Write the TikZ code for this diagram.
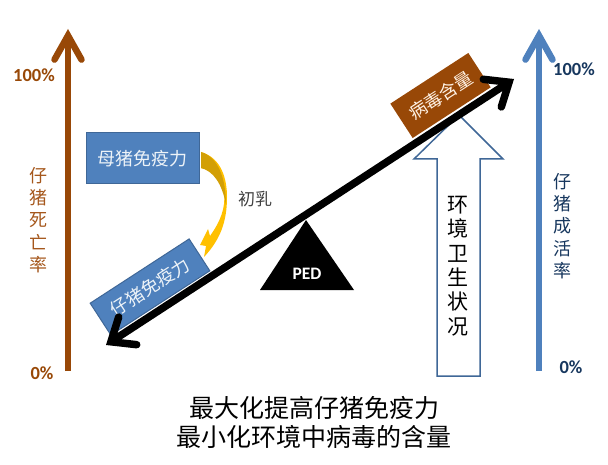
\documentclass[tikz,border=0pt]{standalone}
\usepackage{fontspec}
\setmainfont{Carlito}
\newfontfamily\cjk{Noto Sans CJK SC}
\usetikzlibrary{arrows.meta}
\definecolor{rustbrown}{HTML}{984807}
\definecolor{rusttext}{HTML}{A5571C}
\definecolor{axisblue}{HTML}{4F81BD}
\definecolor{boxedge}{HTML}{3F6797}
\definecolor{navytext}{HTML}{17375E}
\definecolor{milkgold}{HTML}{FFC000}
\definecolor{milkdark}{HTML}{D29F06}
\tikzset{
  axisline/.style={line width=6.5pt,-{Straight Barb[line cap=round,line join=miter,length=24pt,width=27pt,line width=6.5pt]}},
  beamline/.style={line width=7.5pt,{Straight Barb[line cap=round,line join=miter,length=20pt,width=33pt,line width=7.5pt]}-{Straight Barb[line cap=round,line join=miter,length=20pt,width=33pt,line width=7.5pt]}},
  immunebox/.style={draw=boxedge,line width=1pt,fill=axisblue,text=white!90!axisblue,minimum width=113pt,minimum height=51pt,font=\cjk\fontsize{18}{20}\selectfont},
  pct/.style={font=\bfseries\fontsize{18.5}{21}\selectfont},
  vtext/.style={align=center,font=\cjk\fontsize{18}{22.4}\selectfont}
}
\begin{document}
\begin{tikzpicture}[x=1pt,y=-1pt]
\useasboundingbox (0,0) rectangle (608,465);
\coordinate (leftlow) at (68,371);
\coordinate (lefttop) at (68,29);
\coordinate (rightlow) at (539,371);
\coordinate (righttop) at (539,29);
\coordinate (beamlow) at (106,345);
\coordinate (beamtop) at (514,79);

% axes
\draw[axisline,rustbrown] (leftlow) -- (lefttop);
\draw[axisline,axisblue] (rightlow) -- (righttop);
\node[pct,rustbrown] (lefthigh) at (34,75) {100\%};
\node[pct,rustbrown] (leftzero) at (42,373) {0\%};
\node[pct,navytext] (righthigh) at (574,69) {100\%};
\node[pct,navytext] (rightzero) at (571,367) {0\%};
\node[vtext,rusttext] (death) at (38,220) {仔\\猪\\死\\亡\\率};
\node[vtext,navytext] (survive) at (562,226) {仔\\猪\\成\\活\\率};

% boxes
\node[immunebox] (sow) at (142.5,158.5) {母猪免疫力};
\node[immunebox,minimum width=118pt,minimum height=38pt,rotate=33] (piglet) at (150,287) {仔猪免疫力};
\node[draw=none,fill=rustbrown,text=white!90!orange,minimum width=93pt,minimum height=41pt,rotate=33,font=\cjk\fontsize{18}{20}\selectfont] (virus) at (440.5,95.5) {病毒含量};

% colostrum arrow
\fill[milkgold] (201,152) .. controls (222,158) and (227,180) .. (227,197) .. controls (227,222) and (220,240) .. (204,257) -- (206,246) -- (200,245) -- (208,229) -- (210,236) .. controls (220,222) and (226,208) .. (224,192) .. controls (221,178) and (212,170) .. (201,168) -- cycle;
\fill[milkdark] (201,152) .. controls (218,157) and (226,178) .. (226,205) .. controls (222,183) and (213,171) .. (201,168) -- cycle;
\node[font=\cjk\fontsize{17}{20}\selectfont,text=black!75] (colostrum) at (255,199) {初乳};

% hollow arrow
\draw[boxedge,line width=1.5pt,fill=white] (459,115) -- (503,159) -- (480,159) -- (480,376) -- (437,376) -- (437,159) -- (414,159) -- cycle;
\node[align=center,font=\cjk\fontsize{21}{24.4}\selectfont] (hygiene) at (458,266) {环\\境\\卫\\生\\状\\况};

% beam
\draw[beamline] (beamlow) -- (beamtop);
\fill (306,220) -- (354,290) -- (260,290) -- cycle;
\node[text=white,font=\bfseries\fontsize{17.5}{20}\selectfont] (ped) at (307,274) {PED};

% caption
\node[align=center,font=\cjk\fontsize{25}{29}\selectfont] (goal) at (314,422) {最大化提高仔猪免疫力\\最小化环境中病毒的含量};
\end{tikzpicture}
\end{document}
